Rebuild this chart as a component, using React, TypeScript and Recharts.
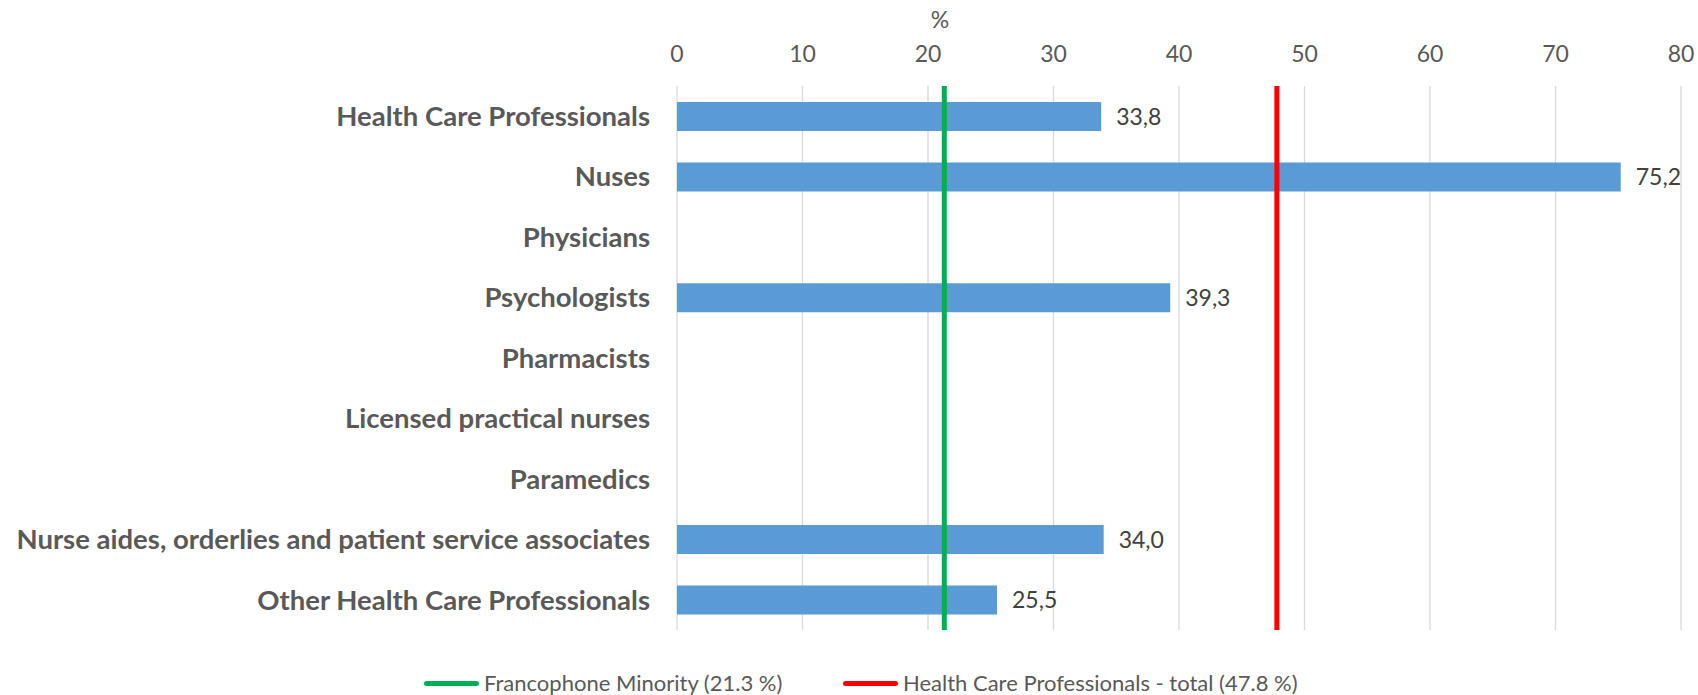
import { BarChart, Bar, XAxis, YAxis, CartesianGrid, ReferenceLine, LabelList } from "recharts";

const categories = [
  "Health Care Professionals",
  "Nuses",
  "Physicians",
  "Psychologists",
  "Pharmacists",
  "Licensed practical nurses",
  "Paramedics",
  "Nurse aides, orderlies and patient service associates",
  "Other Health Care Professionals",
];
const shares: (number | null)[] = [33.8, 75.2, null, 39.3, null, null, null, 34.0, 25.5];
const xTicks = [0, 10, 20, 30, 40, 50, 60, 70, 80];

const francophoneMinority = 21.3;
const hcpTotal = 47.8;

const FONT = "Lato, 'Open Sans', sans-serif";
const GREEN = "#00B050";
const RED = "#FF0000";

const rows = categories.map((name, i) => ({ name, value: shares[i] }));

const fmt = (v: unknown) => (v == null || v === "" ? "" : Number(v).toFixed(1).replace(".", ","));

function LegendItem({ color, text, width }: { color: string; text: string; width?: number }) {
  return (
    <div style={{ display: "flex", alignItems: "center", width }}>
      <span style={{ display: "inline-block", width: 55, height: 5, borderRadius: 3, background: color, marginRight: 5 }} />
      <span>{text}</span>
    </div>
  );
}

export default function App() {
  return (
    <div style={{ position: "relative", width: 1698, height: 695, background: "#fff", fontFamily: FONT }}>
      <style>{"body{margin:0}"}</style>
      <BarChart
        width={1698}
        height={695}
        data={rows}
        layout="vertical"
        margin={{ top: 56, right: 17, bottom: 65, left: 0 }}
        barSize={29}
      >
        <CartesianGrid horizontal={false} stroke="#D9D9D9" strokeWidth={1.3} />
        <XAxis
          type="number"
          orientation="top"
          domain={[0, 80]}
          ticks={xTicks}
          height={30}
          axisLine={false}
          tickLine={false}
          tickSize={0}
          tickMargin={24}
          tick={{ fill: "#595959", fontSize: 23, fontFamily: FONT }}
          label={() => (
            <text x={940} y={28} textAnchor="middle" fill="#595959" fontSize={23} fontFamily={FONT}>
              %
            </text>
          )}
        />
        <YAxis
          type="category"
          dataKey="name"
          width={677}
          axisLine={false}
          tickLine={false}
          tickSize={0}
          tickMargin={27}
          interval={0}
          tick={{ fill: "#595959", fontSize: 27.5, fontWeight: 700, fontFamily: FONT }}
        />
        <Bar dataKey="value" fill="#5B9BD5" isAnimationActive={false}>
          <LabelList
            dataKey="value"
            position="right"
            offset={15}
            formatter={fmt}
            style={{ fill: "#404040", fontSize: 23, fontFamily: FONT }}
          />
        </Bar>
        <ReferenceLine x={francophoneMinority} stroke={GREEN} strokeWidth={5} ifOverflow="visible" />
        <ReferenceLine x={hcpTotal} stroke={RED} strokeWidth={5} ifOverflow="visible" />
      </BarChart>
      <div
        style={{
          position: "absolute",
          top: 669,
          left: 424,
          display: "flex",
          color: "#595959",
          fontSize: 22,
          lineHeight: "28px",
          whiteSpace: "nowrap",
        }}
      >
        <LegendItem color={GREEN} width={419} text={`Francophone Minority (${francophoneMinority} %)`} />
        <LegendItem color={RED} text={`Health Care Professionals - total (${hcpTotal} %)`} />
      </div>
    </div>
  );
}
